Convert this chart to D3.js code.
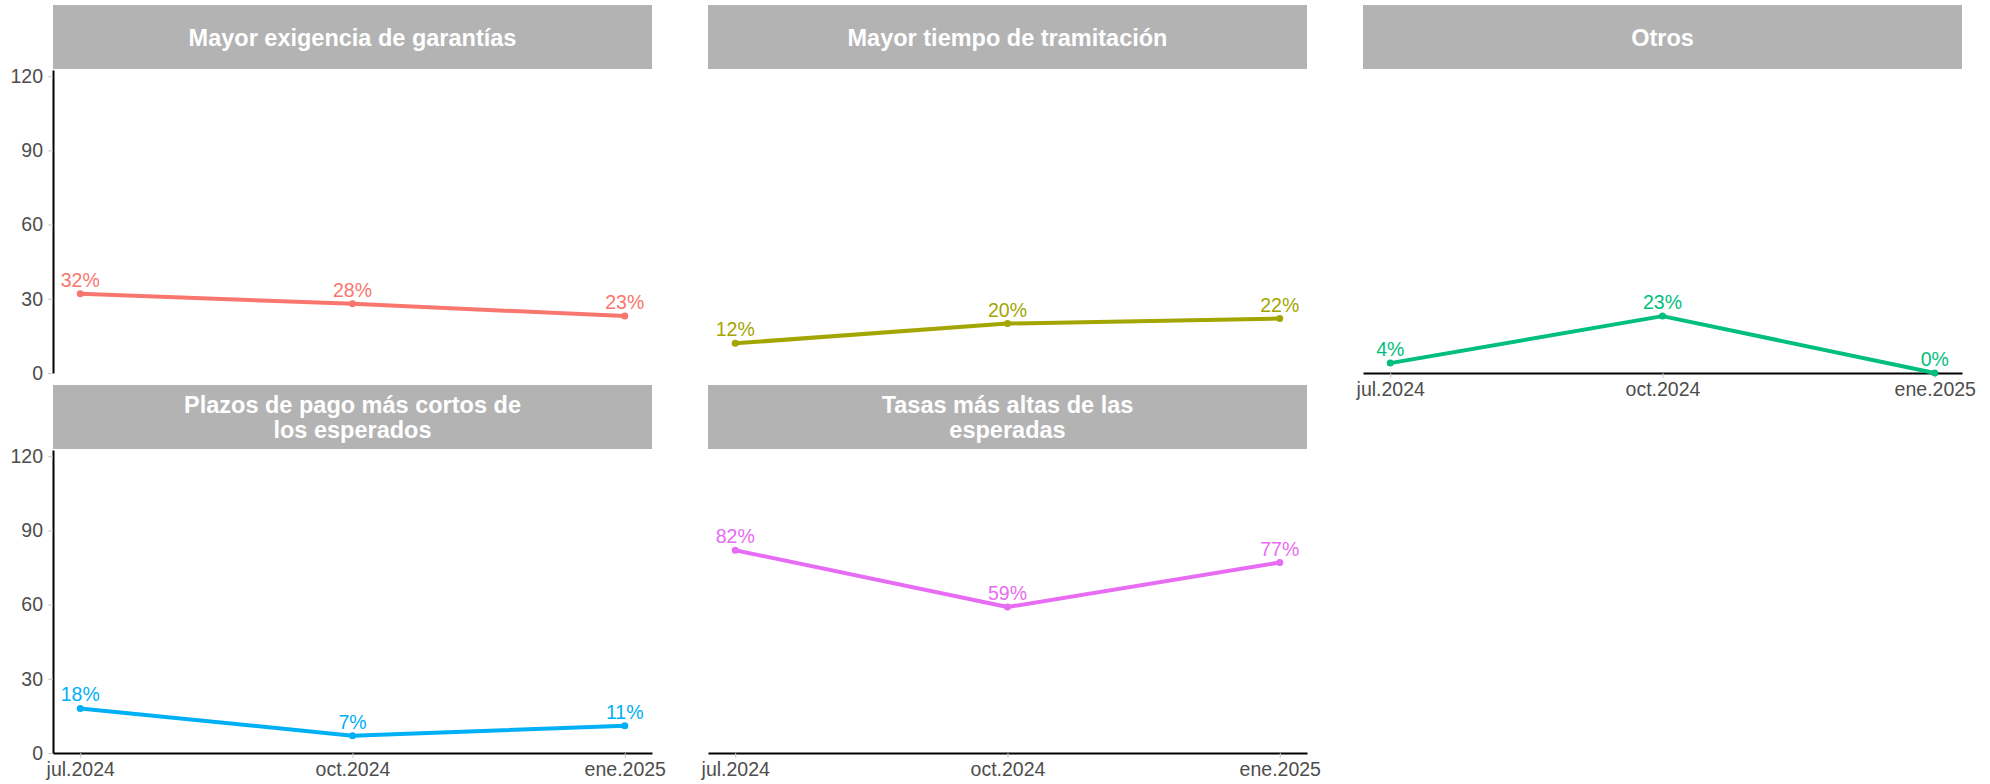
<!DOCTYPE html>
<meta charset="utf-8">
<style>
  body { margin: 0; background: #fff; }
  svg { font-family: "Liberation Sans", Arial, sans-serif; }
  .axis .tick line { stroke: #c8c8c8; }
  .axis .tick text { fill: #4d4d4d; font-size: 19.5px; }
  .axis .domain { stroke: #000; stroke-width: 2; }
</style>
<svg width="1990" height="784"></svg>
<script src="https://d3js.org/d3.v7.min.js"></script>
<script>
  // Data
  var fechas = ["jul.2024", "oct.2024", "ene.2025"];
  var categorias = [
    "Mayor exigencia de garantías",
    "Mayor tiempo de tramitación",
    "Otros",
    "Plazos de pago más cortos de los esperados",
    "Tasas más altas de las esperadas"
  ];
  var garantias = [32, 28, 23];
  var tramitacion = [12, 20, 22];
  var otros = [4, 23, 0];
  var plazos = [18, 7, 11];
  var tasas = [82, 59, 77];
  var series = [garantias, tramitacion, otros, plazos, tasas];
  var colores = ["#F8766D", "#A3A500", "#00BF7D", "#00B0F6", "#E76BF3"];
  var yTicks = [0, 30, 60, 90, 120];

  var svg = d3.select("svg");

  // facet grid: 3 columns, 2 rows
  var colX = [53, 708, 1363],
    panelW = 599,
    stripTop = [5, 385],
    stripH = 64,
    panelH = 303;

  // wrap strip titles like str_wrap(28)
  function wrap(s, n) {
    var words = s.split(" "), lines = [], cur = "";
    words.forEach(function(w) {
      if (cur && (cur + " " + w).length > n) { lines.push(cur); cur = w; }
      else cur = cur ? cur + " " + w : w;
    });
    lines.push(cur);
    return lines;
  }

  categorias.forEach(function(cat, i) {
    var col = i % 3, row = Math.floor(i / 3);
    var x0 = colX[col],
      sTop = stripTop[row],
      pTop = sTop + stripH + 1,
      pBot = pTop + panelH;

    var x = d3.scalePoint().domain(fechas).range([x0, x0 + panelW]).padding(0.1);
    var y = d3.scaleLinear().domain([0, 122.5]).range([pBot, pTop]);

    var g = svg.append("g");

    // strip
    g.append("rect")
      .attr("x", x0)
      .attr("y", sTop)
      .attr("width", panelW)
      .attr("height", stripH)
      .attr("fill", "#b3b3b3");

    var lines = wrap(cat, 28), lh = 25.5;
    var cy = sTop + stripH / 2 + 8.5 - (lines.length - 1) * lh / 2;
    g.append("text")
      .attr("text-anchor", "middle")
      .attr("fill", "#fff")
      .attr("font-weight", "bold")
      .attr("font-size", 23.5)
      .selectAll("tspan")
      .data(lines)
      .enter()
      .append("tspan")
      .attr("x", x0 + panelW / 2)
      .attr("y", function(d, k) { return cy + k * lh; })
      .text(function(d) { return d; });

    // axes: y only on first column, x only on bottom of each column
    if (col === 0) {
      g.append("g")
        .attr("class", "axis")
        .attr("transform", "translate(" + x0 + ",0)")
        .call(d3.axisLeft(y).tickValues(yTicks).tickSize(5).tickSizeOuter(0).tickPadding(5));
    }
    if (i >= 2) {
      g.append("g")
        .attr("class", "axis")
        .attr("transform", "translate(0," + pBot + ")")
        .call(d3.axisBottom(x).tickSize(5).tickSizeOuter(0).tickPadding(4.5));
    }

    var data = series[i].map(function(v, k) { return { f: fechas[k], v: v }; });

    g.append("path")
      .datum(data)
      .attr("fill", "none")
      .attr("stroke", colores[i])
      .attr("stroke-width", 4)
      .attr("stroke-linejoin", "round")
      .attr("d", d3.line()
        .x(function(d) { return x(d.f); })
        .y(function(d) { return y(d.v); }));

    g.selectAll("circle")
      .data(data)
      .enter()
      .append("circle")
      .attr("cx", function(d) { return x(d.f); })
      .attr("cy", function(d) { return y(d.v); })
      .attr("r", 3.5)
      .attr("fill", colores[i]);

    g.selectAll(".lbl")
      .data(data)
      .enter()
      .append("text")
      .attr("class", "lbl")
      .attr("x", function(d) { return x(d.f); })
      .attr("y", function(d) { return y(d.v) - 7; })
      .attr("text-anchor", "middle")
      .attr("font-size", 19.5)
      .attr("fill", colores[i])
      .text(function(d) { return d.v + "%"; });
  });
</script>
